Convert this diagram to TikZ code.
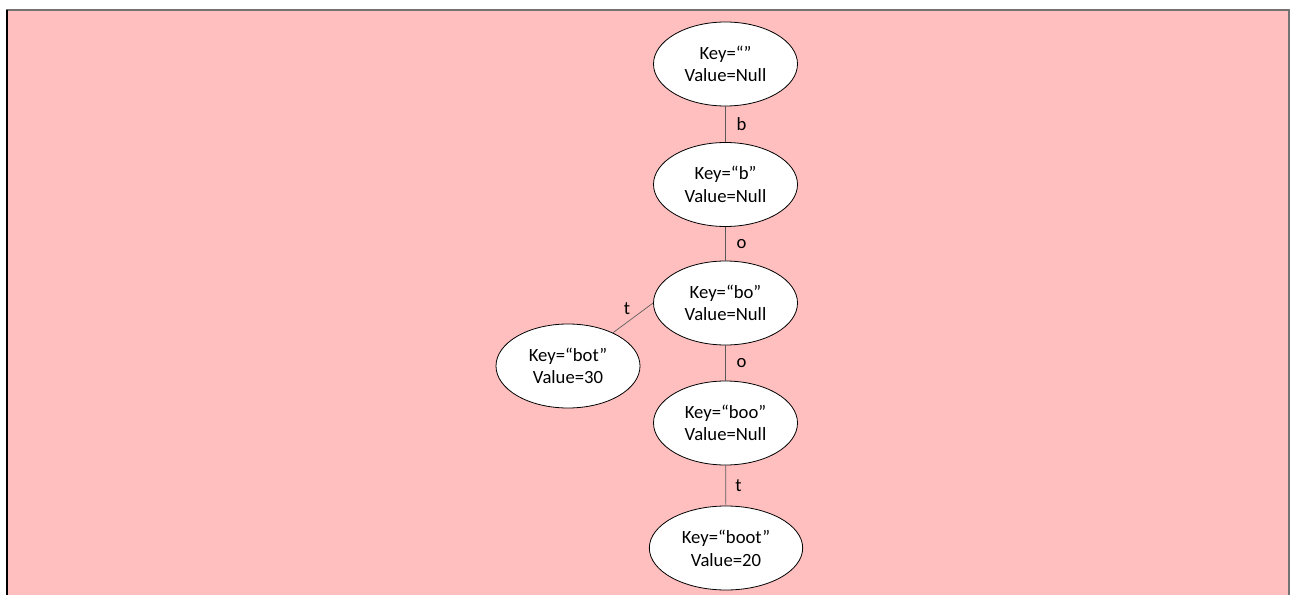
\documentclass[tikz,border=0pt]{standalone}
\usepackage{fontspec}
\setmainfont{Carlito}
\usetikzlibrary{shapes.geometric}
\definecolor{bgpink}{RGB}{255,191,191}
\definecolor{edgegray}{RGB}{90,90,90}

\begin{document}
\begin{tikzpicture}[
        x=0.75pt,
        y=-0.75pt,
        trienode/.style={
            ellipse,
            draw=black,
            fill=white,
            line width=0.6pt,
            minimum width=108pt,
            minimum height=63pt,
            inner sep=1pt,
            align=center,
            font=\fontsize{14}{17}\selectfont
        },
        trieedge/.style={
            draw=edgegray,
            line width=0.5pt
        },
        edgelabel/.style={
            font=\fontsize{14}{17}\selectfont,
            inner sep=2pt
        }
    ]

    % frame
    \useasboundingbox (0,0) rectangle (1291,595);
    \fill[bgpink] (7,10) rectangle (1289,595);
    \draw[black!55, line width=1.5pt] (7,595) -- (7,10) -- (1289,10) -- (1289,595);
    \draw[black, line width=1.5pt] (7,10) -- (7,595);

    % nodes
    \node[trienode] (root) at (725.5,64) {Key=“”\\Value=Null};
    \node[trienode] (b) at (725.5,184.5) {Key=“b”\\Value=Null};
    \node[trienode] (bo) at (725.5,303) {Key=“bo”\\Value=Null};
    \node[trienode] (bot) at (568,366) {Key=“bot”\\Value=30};
    \node[trienode] (boo) at (725.5,423) {Key=“boo”\\Value=Null};
    \node[trienode, minimum width=115pt] (boot) at (726,548) {Key=“boot”\\Value=20};

    % edges
    \draw[trieedge] (root) -- node[edgelabel, right=6pt] {b} (b);
    \draw[trieedge] (b) -- node[edgelabel, right=6pt] {o} (bo);
    \draw[trieedge] (bo.west) -- node[edgelabel, above left=0pt] {t} (bot);
    \draw[trieedge] (bo) -- node[edgelabel, right=6pt] {o} (boo);
    \draw[trieedge] (boo) -- node[edgelabel, right=5pt] {t} (boot);

\end{tikzpicture}
\end{document}
